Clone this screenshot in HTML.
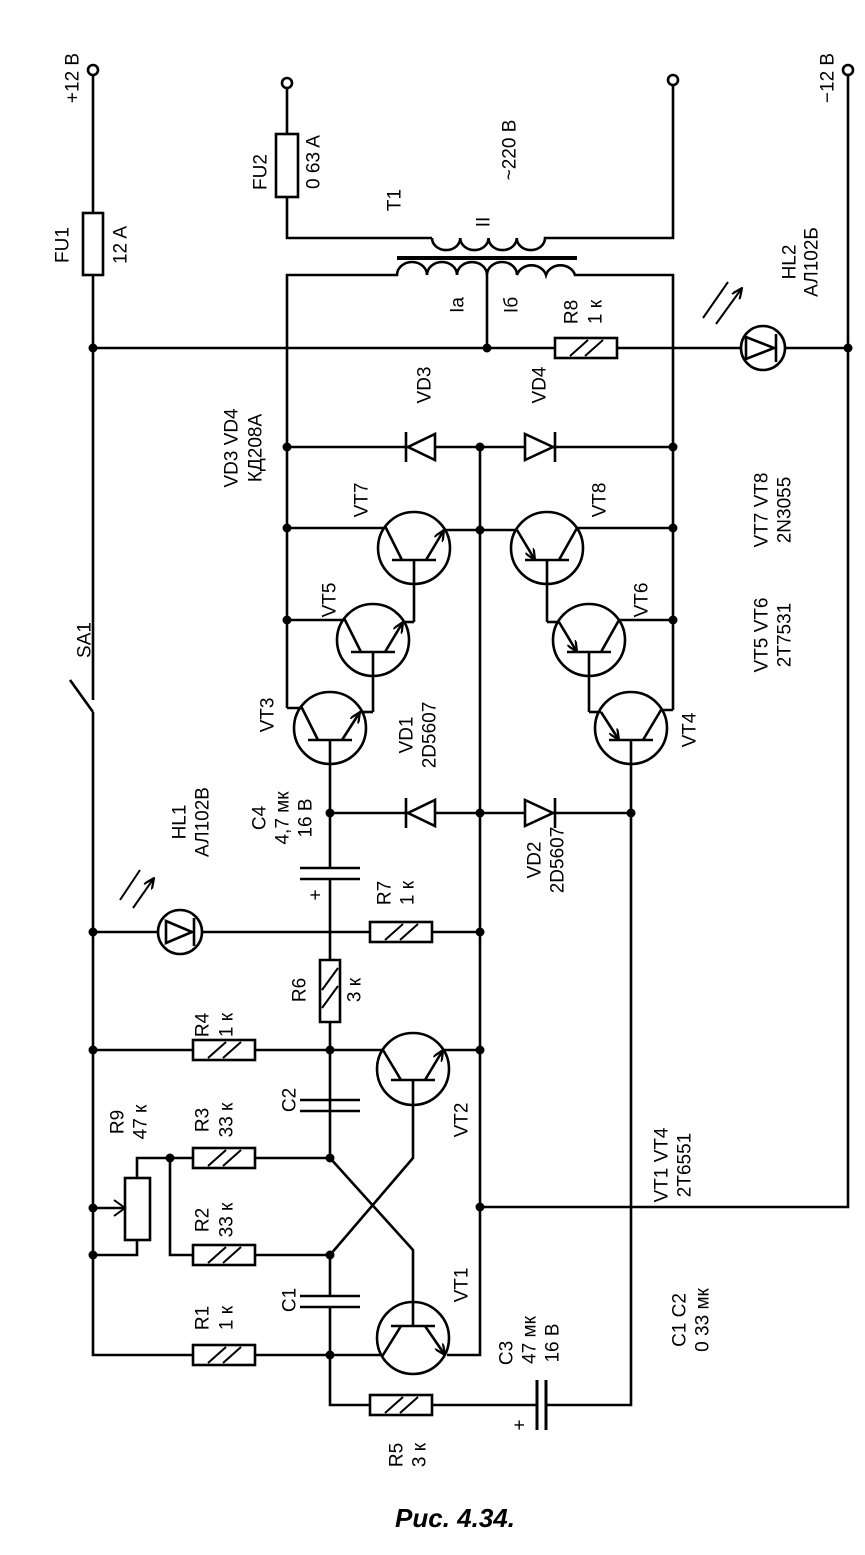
<!DOCTYPE html>
<html><head><meta charset="utf-8"><style>
html,body{margin:0;padding:0;background:#fff}
svg{display:block}
text{font-family:"Liberation Sans",sans-serif;font-size:19px;fill:#000}
</style></head><body>
<svg width="865" height="1555" viewBox="0 0 865 1555" xmlns="http://www.w3.org/2000/svg">
<defs>
<marker id="ar" markerWidth="12" markerHeight="10" refX="11" refY="5" orient="auto" markerUnits="userSpaceOnUse">
<path d="M0,0 L11,5 L0,10" fill="none" stroke="#000" stroke-width="2.2"/>
</marker>
</defs>
<g fill="none" stroke="#000" stroke-width="2.6">
<circle cx="93" cy="70" r="5" fill="#fff"/>
<path d="M93,75 V213 M93,275 V700"/>
<rect x="83" y="213" width="20" height="62"/>
<path d="M70,680 L93,712"/>
<path d="M93,712 V1355 H193 M255,1355 H330"/>
<circle cx="848" cy="70" r="5" fill="#fff"/>
<path d="M848,75 V1207 H480"/>
<path d="M93,348 H555 M617,348 H741 M785,348 H848"/>
<rect x="555" y="338" width="62" height="20"/>
<path d="M570,356 L588,340 M585,356 L603,340" stroke-width="2"/>
<circle cx="763" cy="348" r="22"/>
<path d="M746,337 L746,359 L774,348 Z M776,334 V362"/>
<path d="M703,318 L728,282 M716,324 L742,288" marker-end="url(#ar)" stroke-width="2"/>
<circle cx="287" cy="83" r="5" fill="#fff"/>
<path d="M287,88 V134 M287,197 V238 H432"/>
<rect x="276" y="134" width="22" height="63"/>
<path d="M432,238 a14,12 0 0 0 28.25,0 a14,12 0 0 0 28.25,0 a14,12 0 0 0 28.25,0 a14,12 0 0 0 28.25,0 H673 V85"/>
<circle cx="673" cy="80" r="5" fill="#fff"/>
<path d="M397,258 H577" stroke-width="4"/>
<path d="M287,708 V275 H397 a15,13 0 0 1 30,0 a15,13 0 0 1 30,0 a15,13 0 0 1 30,0 a15,13 0 0 1 30,0 a15,13 0 0 1 29,0 a15,13 0 0 1 29,0 H673 V710"/>
<path d="M487,275 V348"/>
<path d="M287,447 H408 M435,447 H525 M553,447 H673"/>
<path d="M435,434 L435,460 L408,447 Z M406,432 V462"/>
<path d="M525,434 L525,460 L553,447 Z M555,432 V462"/>
<path d="M480,447 V1355 H447"/>
<circle cx="414" cy="548" r="36"/>
<path d="M392,560 H436 M414,560 V622 M402,560 L386,528 H287"/>
<path d="M426,560 L444,530" marker-end="url(#ar)"/><path d="M444,530 H480"/>
<circle cx="373" cy="640" r="36"/>
<path d="M351,652 H395 M373,652 V712 M361,652 L345,620 H287"/>
<path d="M385,652 L403,622" marker-end="url(#ar)"/><path d="M403,622 H414"/>
<circle cx="330" cy="728" r="36"/>
<path d="M308,740 H352 M330,740 V813 M318,740 L302,708 H287"/>
<path d="M342,740 L360,712" marker-end="url(#ar)"/><path d="M360,712 H373"/>
<circle cx="547" cy="548" r="36"/>
<path d="M525,560 H569 M547,560 V622 M559,560 L577,528 H673"/>
<path d="M517,530 L535,560" marker-end="url(#ar)"/><path d="M517,530 H480"/>
<circle cx="589" cy="640" r="36"/>
<path d="M567,652 H611 M589,652 V712 M601,652 L619,620 H673"/>
<path d="M559,622 L577,652" marker-end="url(#ar)"/><path d="M559,622 H547"/>
<circle cx="631" cy="728" r="36"/>
<path d="M609,740 H653 M631,740 V1400 M643,740 L661,710 H673"/>
<path d="M601,712 L619,740" marker-end="url(#ar)"/><path d="M601,712 H589"/>
<path d="M330,813 H408 M435,813 H525 M553,813 H631"/>
<path d="M435,800 L435,826 L408,813 Z M406,798 V828"/>
<path d="M525,800 L525,826 L553,813 Z M555,798 V828"/>
<path d="M330,813 V868 M300,868 H360 M300,879 H360 M330,879 V960 M320,960 H340 V1022 H320 Z M330,1022 V1158"/>
<path d="M322,990 L338,968 M322,1008 L338,986" stroke-width="2"/>
<path d="M93,932 H158 M202,932 H370 M432,932 H480"/>
<circle cx="180" cy="932" r="22"/>
<path d="M166,921 L166,943 L192,932 Z M194,918 V946"/>
<path d="M120,900 L140,870 M133,908 L154,878" marker-end="url(#ar)" stroke-width="2"/>
<rect x="370" y="922" width="62" height="20"/>
<path d="M385,940 L403,924 M400,940 L418,924" stroke-width="2"/>
<path d="M93,1050 H193 M255,1050 H383"/>
<rect x="193" y="1040" width="62" height="20"/>
<circle cx="413" cy="1069" r="36"/>
<path d="M391,1080 H435 M413,1080 V1158 L330,1255 M401,1080 L383,1050"/>
<path d="M425,1080 L443,1050" marker-end="url(#ar)"/><path d="M443,1050 H480"/>
<path d="M300,1100 H360 M300,1111 H360"/>
<path d="M170,1158 H193 M255,1158 H330 M170,1158 V1255 H193 M255,1255 H330"/>
<rect x="193" y="1148" width="62" height="20"/>
<rect x="193" y="1245" width="62" height="20"/>
<rect x="125" y="1178" width="25" height="62"/>
<path d="M137,1178 V1158 H170 M137,1240 V1255 H93 M93,1208 H125"/>
<path d="M114,1200 L125,1208 L114,1216" stroke-width="2"/>
<path d="M330,1255 V1296 M300,1296 H360 M300,1307 H360 M330,1307 V1405 H370 M432,1405 H537 M546,1405 H631 V1400"/>
<path d="M537,1380 V1430 M546,1380 V1430" stroke-width="3"/>
<circle cx="413" cy="1338" r="36"/>
<path d="M391,1326 H435 M413,1326 V1250 L330,1158 M401,1326 L383,1355 H330"/>
<path d="M425,1326 L445,1355" marker-end="url(#ar)"/>
<rect x="193" y="1345" width="62" height="20"/>
<rect x="370" y="1395" width="62" height="20"/>
<path d="M385,1413 L403,1397 M400,1413 L418,1397" stroke-width="2"/>
<path d="M208,1058 L226,1042 M223,1058 L241,1042 M208,1166 L226,1150 M223,1166 L241,1150 M208,1263 L226,1247 M223,1263 L241,1247 M208,1363 L226,1347 M223,1363 L241,1347" stroke-width="2"/>
</g>
<g fill="#000">
<circle cx="93" cy="348" r="4.5"/><circle cx="487" cy="348" r="4.5"/><circle cx="848" cy="348" r="4.5"/>
<circle cx="287" cy="447" r="4.5"/><circle cx="480" cy="447" r="4.5"/><circle cx="673" cy="447" r="4.5"/>
<circle cx="287" cy="528" r="4.5"/><circle cx="480" cy="530" r="4.5"/><circle cx="673" cy="528" r="4.5"/>
<circle cx="287" cy="620" r="4.5"/><circle cx="673" cy="620" r="4.5"/>
<circle cx="330" cy="813" r="4.5"/><circle cx="480" cy="813" r="4.5"/><circle cx="631" cy="813" r="4.5"/>
<circle cx="93" cy="932" r="4.5"/><circle cx="480" cy="932" r="4.5"/>
<circle cx="93" cy="1050" r="4.5"/><circle cx="330" cy="1050" r="4.5"/><circle cx="480" cy="1050" r="4.5"/>
<circle cx="170" cy="1158" r="4.5"/><circle cx="330" cy="1158" r="4.5"/>
<circle cx="93" cy="1208" r="4.5"/><circle cx="480" cy="1207" r="4.5"/>
<circle cx="93" cy="1255" r="4.5"/><circle cx="330" cy="1255" r="4.5"/>
<circle cx="330" cy="1355" r="4.5"/>
</g>
<g text-anchor="middle" dominant-baseline="central">
<text transform="translate(73,78) rotate(-90)">+12 В</text>
<text transform="translate(828,78) rotate(-90)">−12 В</text>
<text transform="translate(63,245) rotate(-90)">FU1</text>
<text transform="translate(121,245) rotate(-90)">12 A</text>
<text transform="translate(261,172) rotate(-90)">FU2</text>
<text transform="translate(314,162) rotate(-90)">0 63 A</text>
<text transform="translate(395,200) rotate(-90)">T1</text>
<text transform="translate(510,150) rotate(-90)">~220 В</text>
<text transform="translate(484,222) rotate(-90)">II</text>
<text transform="translate(458,305) rotate(-90)">Iа</text>
<text transform="translate(512,305) rotate(-90)">Iб</text>
<text transform="translate(572,312) rotate(-90)">R8</text>
<text transform="translate(596,312) rotate(-90)">1 к</text>
<text transform="translate(790,262) rotate(-90)">HL2</text>
<text transform="translate(812,262) rotate(-90)">АЛ102Б</text>
<text transform="translate(232,448) rotate(-90)">VD3 VD4</text>
<text transform="translate(256,448) rotate(-90)">КД208А</text>
<text transform="translate(425,385) rotate(-90)">VD3</text>
<text transform="translate(540,385) rotate(-90)">VD4</text>
<text transform="translate(362,500) rotate(-90)">VT7</text>
<text transform="translate(600,500) rotate(-90)">VT8</text>
<text transform="translate(330,600) rotate(-90)">VT5</text>
<text transform="translate(642,600) rotate(-90)">VT6</text>
<text transform="translate(268,715) rotate(-90)">VT3</text>
<text transform="translate(690,730) rotate(-90)">VT4</text>
<text transform="translate(407,735) rotate(-90)">VD1</text>
<text transform="translate(430,735) rotate(-90)">2D5607</text>
<text transform="translate(762,510) rotate(-90)">VT7 VT8</text>
<text transform="translate(785,510) rotate(-90)">2N3055</text>
<text transform="translate(762,635) rotate(-90)">VT5 VT6</text>
<text transform="translate(785,635) rotate(-90)">2T7531</text>
<text transform="translate(85,640) rotate(-90)">SA1</text>
<text transform="translate(260,818) rotate(-90)">C4</text>
<text transform="translate(283,818) rotate(-90)">4,7 мк</text>
<text transform="translate(306,818) rotate(-90)">16 В</text>
<text transform="translate(316,895) rotate(-90)">+</text>
<text transform="translate(180,822) rotate(-90)">HL1</text>
<text transform="translate(203,822) rotate(-90)">АЛ102В</text>
<text transform="translate(385,893) rotate(-90)">R7</text>
<text transform="translate(408,893) rotate(-90)">1 к</text>
<text transform="translate(535,860) rotate(-90)">VD2</text>
<text transform="translate(558,860) rotate(-90)">2D5607</text>
<text transform="translate(300,990) rotate(-90)">R6</text>
<text transform="translate(355,990) rotate(-90)">3 к</text>
<text transform="translate(203,1025) rotate(-90)">R4</text>
<text transform="translate(227,1025) rotate(-90)">1 к</text>
<text transform="translate(118,1122) rotate(-90)">R9</text>
<text transform="translate(141,1122) rotate(-90)">47 к</text>
<text transform="translate(203,1120) rotate(-90)">R3</text>
<text transform="translate(227,1120) rotate(-90)">33 к</text>
<text transform="translate(290,1100) rotate(-90)">C2</text>
<text transform="translate(462,1120) rotate(-90)">VT2</text>
<text transform="translate(662,1165) rotate(-90)">VT1  VT4</text>
<text transform="translate(685,1165) rotate(-90)">2T6551</text>
<text transform="translate(203,1220) rotate(-90)">R2</text>
<text transform="translate(227,1220) rotate(-90)">33 к</text>
<text transform="translate(290,1300) rotate(-90)">C1</text>
<text transform="translate(203,1318) rotate(-90)">R1</text>
<text transform="translate(227,1318) rotate(-90)">1 к</text>
<text transform="translate(462,1285) rotate(-90)">VT1</text>
<text transform="translate(507,1353) rotate(-90)">C3</text>
<text transform="translate(530,1340) rotate(-90)">47 мк</text>
<text transform="translate(553,1343) rotate(-90)">16 В</text>
<text transform="translate(520,1425) rotate(-90)">+</text>
<text transform="translate(680,1320) rotate(-90)">C1  C2</text>
<text transform="translate(703,1320) rotate(-90)">0 33 мк</text>
<text transform="translate(397,1455) rotate(-90)">R5</text>
<text transform="translate(420,1455) rotate(-90)">3 к</text>
<text x="455" y="1518" style="font-size:26px;font-weight:bold;font-style:italic">Рис. 4.34.</text>
</g>
</svg>
</body></html>
